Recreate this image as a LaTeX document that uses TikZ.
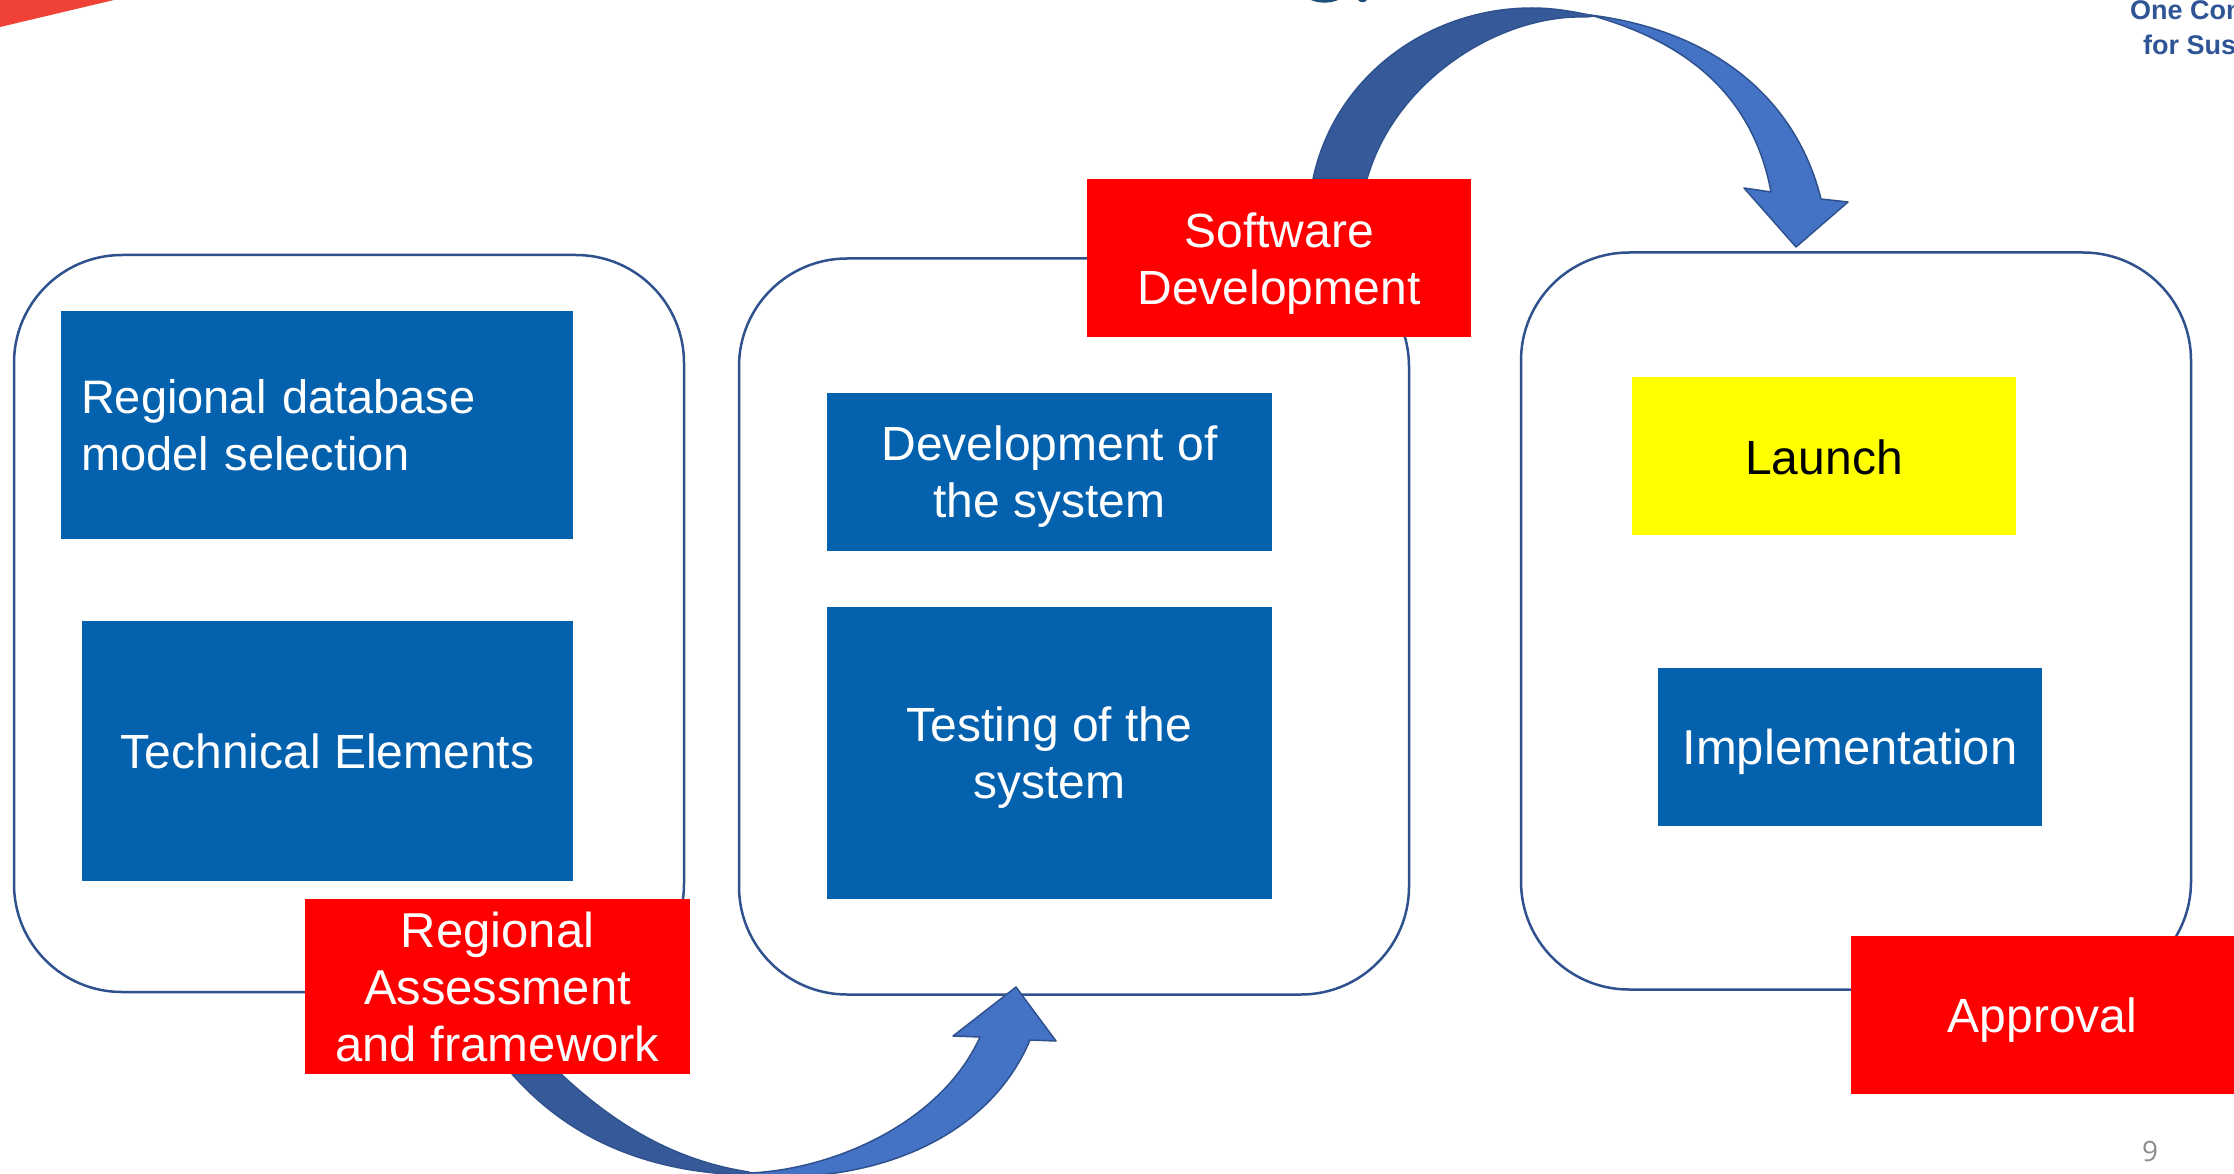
\documentclass[tikz,border=0pt]{standalone}
\usepackage{fontspec}
\setmainfont{Liberation Sans}
\newfontfamily\numfont{Open Sans}
\newcommand{\dropline}[1]{\rule{0pt}{#1pt}}
\definecolor{panelline}{HTML}{2F528F}
\definecolor{boxblue}{HTML}{0461AD}
\definecolor{arrowlight}{HTML}{4472C4}
\definecolor{arrowdark}{HTML}{365A99}
\definecolor{logored}{HTML}{EF4136}
\definecolor{logoblue}{HTML}{2F5597}
\definecolor{titleblue}{HTML}{1F4E79}
\definecolor{pureyellow}{RGB}{255,255,0}
\definecolor{purered}{RGB}{255,0,0}
\definecolor{numgrey}{HTML}{8C8C8C}
\tikzset{
  panelbox/.style={draw=panelline,line width=2.5pt,fill=white,rounded corners=108pt,minimum width=670pt,minimum height=737pt,inner sep=0pt,outer sep=0pt},
  label/.style={inner sep=0pt,outer sep=0pt,align=center,font=\fontsize{48}{57}\selectfont},
  bluebox/.style={label,fill=boxblue,text=white},
  redbox/.style={label,fill=purered,text=white},
  yellowbox/.style={label,fill=pureyellow,text=black},
  logotext/.style={anchor=base west,inner sep=0pt,text=logoblue,font=\fontsize{27}{30}\selectfont\bfseries},
  curvedark/.style={fill=arrowdark,draw=panelline,line width=1.5pt,line join=round},
  curvelight/.style={fill=arrowlight,draw=panelline,line width=1.5pt,line join=round}
}
\begin{document}
\begin{tikzpicture}[x=1pt,y=-1pt]
\useasboundingbox (0,0) rectangle (2234,1174);
\clip (0,0) rectangle (2234,1174);
\fill[white] (0,0) rectangle (2234,1174);
% page fragments at the top
\fill[logored] (0,0) -- (114,0) -- (0,27) -- cycle;
\fill[titleblue] (1311,0) .. controls (1318,3.5) and (1331,3.5) .. (1338,0) -- cycle;
\fill[titleblue] (1358,0) .. controls (1360,3) and (1365,3) .. (1367,0) -- cycle;
\node[logotext] (logoa) at (2130,20) {One Con};
\node[logotext] (logob) at (2143,55) {for Sus};
% panels
\node[panelbox] (p1) at (349,623.5) {};
\node[panelbox,minimum height=736pt] (p2) at (1074,626.5) {};
\node[panelbox] (p3) at (1856,621) {};
% blue boxes
\node[bluebox,minimum width=512pt,minimum height=228pt,align=left,text width=472pt,font=\fontsize{47}{57}\selectfont] (regdb) at (317,425) {Regional database\\model selection};
\node[bluebox,minimum width=491pt,minimum height=260pt] (tech) at (327.5,751) {Technical Elements};
\node[bluebox,minimum width=445pt,minimum height=158pt] (dev) at (1049.5,472) {\dropline{44}Development of\\the system};
\node[bluebox,minimum width=445pt,minimum height=292pt] (test) at (1049.5,753) {\dropline{44}Testing of the\\system};
\node[yellowbox,minimum width=384pt,minimum height=158pt] (launch) at (1824,456) {\dropline{38}Launch};
\node[bluebox,minimum width=384pt,minimum height=158pt,font=\fontsize{49}{57}\selectfont] (impl) at (1850,747) {\dropline{46}Implementation};
% curved arrows
\draw[curvedark] (1313,179) .. controls (1335,75) and (1430,8) .. (1532,8) .. controls (1555,8) and (1575,12) .. (1594,16) -- (1586,17) .. controls (1500,14) and (1395,80) .. (1367,179) -- cycle;
\draw[curvelight] (1590,15) .. controls (1710,30) and (1795,95) .. (1821,199) -- (1848,202) -- (1796,247) -- (1744,188) -- (1771,192) .. controls (1752,90) and (1680,40) .. (1590,15) -- cycle;
\draw[curvedark] (512,1074) .. controls (570,1140) and (650,1173) .. (749,1175) -- (749,1172) .. controls (670,1160) and (610,1120) .. (561,1074) -- cycle;
\draw[curvelight] (749,1176) .. controls (880,1185) and (990,1135) .. (1030,1040) -- (1056,1041) -- (1016,987) -- (953,1036) -- (980,1037) .. controls (940,1125) and (830,1170) .. (749,1173) -- cycle;
% red boxes
\node[redbox,minimum width=385pt,minimum height=175pt,font=\fontsize{49}{57}\selectfont] (assess) at (497.5,986.5) {Regional\\Assessment\\and framework};
\node[redbox,minimum width=384pt,minimum height=158pt] (soft) at (1279,258) {\dropline{46}Software\\Development};
\node[redbox,minimum width=384pt,minimum height=158pt] (appr) at (2042.5,1015) {\dropline{44}Approval};
\node[inner sep=0pt,text=numgrey,font=\numfont\fontsize{28}{30}\selectfont] (pagenum) at (2150,1151) {9};
\end{tikzpicture}
\end{document}
